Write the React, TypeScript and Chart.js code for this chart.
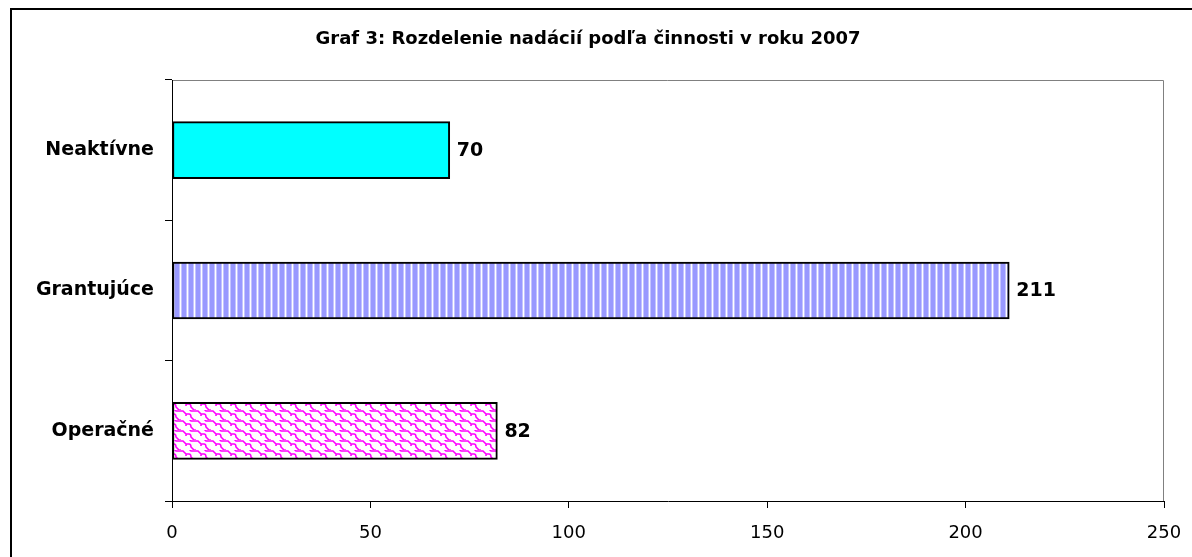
import React, { useEffect, useRef } from "react";
import { Chart, registerables } from "chart.js";

Chart.register(...registerables);

const TITLE = "Graf 3: Rozdelenie nadácií podľa činnosti v roku 2007";
const categories = ["Neaktívne", "Grantujúce", "Operačné"];
const values = [70, 211, 82];
const xTicks = [0, 50, 100, 150, 200, 250];

const FONT = "'DejaVu Sans', Verdana, sans-serif";

function stripePattern(): CanvasPattern | string {
  const c = document.createElement("canvas");
  c.width = 7;
  c.height = 4;
  const ctx = c.getContext("2d");
  if (!ctx) return "#9999ff";
  const cols = ["#9999ff", "#9999ff", "#9999ff", "#9999ff", "#c4c4ff", "#ffffff", "#c4c4ff"];
  cols.forEach((col, i) => {
    ctx.fillStyle = col;
    ctx.fillRect(i, 0, 1, 4);
  });
  return ctx.createPattern(c, "repeat") || "#9999ff";
}

function shinglePattern(): CanvasPattern | string {
  const c = document.createElement("canvas");
  c.width = 15;
  c.height = 10;
  const ctx = c.getContext("2d");
  if (!ctx) return "#ff00ff";
  ctx.fillStyle = "#ffffff";
  ctx.fillRect(0, 0, 15, 10);
  ctx.strokeStyle = "#ff00ff";
  ctx.lineWidth = 1.6;
  ctx.beginPath();
  ctx.moveTo(-1, 1);
  ctx.lineTo(3, 1);
  ctx.lineTo(6, 4);
  ctx.lineTo(9, 4);
  ctx.quadraticCurveTo(11, 4, 11, 7);
  ctx.lineTo(14, 10);
  ctx.lineTo(16, 11);
  ctx.moveTo(6, 4);
  ctx.lineTo(6, 6);
  ctx.moveTo(9, -1);
  ctx.lineTo(11, 1);
  ctx.lineTo(14, 1);
  ctx.lineTo(16, 1);
  ctx.moveTo(-1, 9);
  ctx.lineTo(1, 11);
  ctx.stroke();
  return ctx.createPattern(c, "repeat") || "#ff00ff";
}

export default function App() {
  const ref = useRef<HTMLCanvasElement | null>(null);

  useEffect(() => {
    const canvas = ref.current;
    if (!canvas) return;

    const fills = ["#00ffff", stripePattern(), shinglePattern()];

    const decor = {
      id: "decor",
      beforeDraw(chart: any) {
        const ctx = chart.ctx;
        ctx.save();
        ctx.fillStyle = "#ffffff";
        ctx.fillRect(0, 0, chart.width, chart.height);
        ctx.fillStyle = "#000000";
        ctx.fillRect(10, 8, 2, chart.height);
        ctx.fillRect(10, 8, chart.width, 2);
        ctx.font = `bold 18px ${FONT}`;
        ctx.textAlign = "center";
        ctx.textBaseline = "alphabetic";
        ctx.fillText(TITLE, 588, 44);
        const a = chart.chartArea;
        ctx.strokeStyle = "#808080";
        ctx.lineWidth = 1;
        ctx.beginPath();
        ctx.moveTo(a.left, a.top + 0.5);
        ctx.lineTo(a.right - 0.5, a.top + 0.5);
        ctx.lineTo(a.right - 0.5, a.bottom);
        ctx.stroke();
        ctx.restore();
      },
      afterDatasetsDraw(chart: any) {
        const ctx = chart.ctx;
        const meta = chart.getDatasetMeta(0);
        ctx.save();
        ctx.font = `bold 19px ${FONT}`;
        ctx.fillStyle = "#000000";
        ctx.textAlign = "left";
        ctx.textBaseline = "middle";
        meta.data.forEach((el: any, i: number) => {
          ctx.fillText(String(values[i]), el.x + 7, el.y + 1);
        });
        ctx.restore();
      },
    };

    const chart = new Chart(canvas, {
      type: "bar",
      data: {
        labels: categories,
        datasets: [
          {
            data: values,
            backgroundColor: fills as any,
            borderColor: "#000000",
            borderWidth: 2,
            borderSkipped: false,
            barThickness: 57,
          },
        ],
      },
      options: {
        indexAxis: "y",
        responsive: false,
        animation: false,
        layout: { padding: { top: 80, right: 28, left: 0, bottom: 0 } },
        plugins: {
          legend: { display: false },
          title: { display: false },
          tooltip: { enabled: false },
        },
        scales: {
          x: {
            min: 0,
            max: 250,
            afterFit: (s: any) => {
              s.height = 56;
              s.paddingLeft = 0;
              s.paddingRight = 0;
            },
            afterBuildTicks: (s: any) => {
              s.ticks = xTicks.map((v) => ({ value: v }));
            },
            grid: {
              drawOnChartArea: false,
              drawTicks: true,
              tickLength: 7,
              color: "#000000",
            },
            border: { color: "#000000", width: 1 },
            ticks: {
              color: "#000000",
              font: { family: FONT, size: 18 },
              padding: 15,
              maxRotation: 0,
            },
          },
          y: {
            afterFit: (s: any) => {
              s.width = 172;
              s.paddingTop = 0;
              s.paddingBottom = 0;
            },
            grid: {
              drawOnChartArea: false,
              drawTicks: true,
              tickLength: 7,
              color: "#000000",
            },
            border: { color: "#000000", width: 1 },
            ticks: {
              color: "#000000",
              font: { family: FONT, size: 19, weight: "bold" },
              padding: 11,
            },
          },
        },
      },
      plugins: [decor],
    });

    return () => chart.destroy();
  }, []);

  return (
    <div style={{ position: "absolute", left: 0, top: 0, width: 1192, height: 557 }}>
      <canvas ref={ref} width={1192} height={557} style={{ display: "block" }} />
    </div>
  );
}
